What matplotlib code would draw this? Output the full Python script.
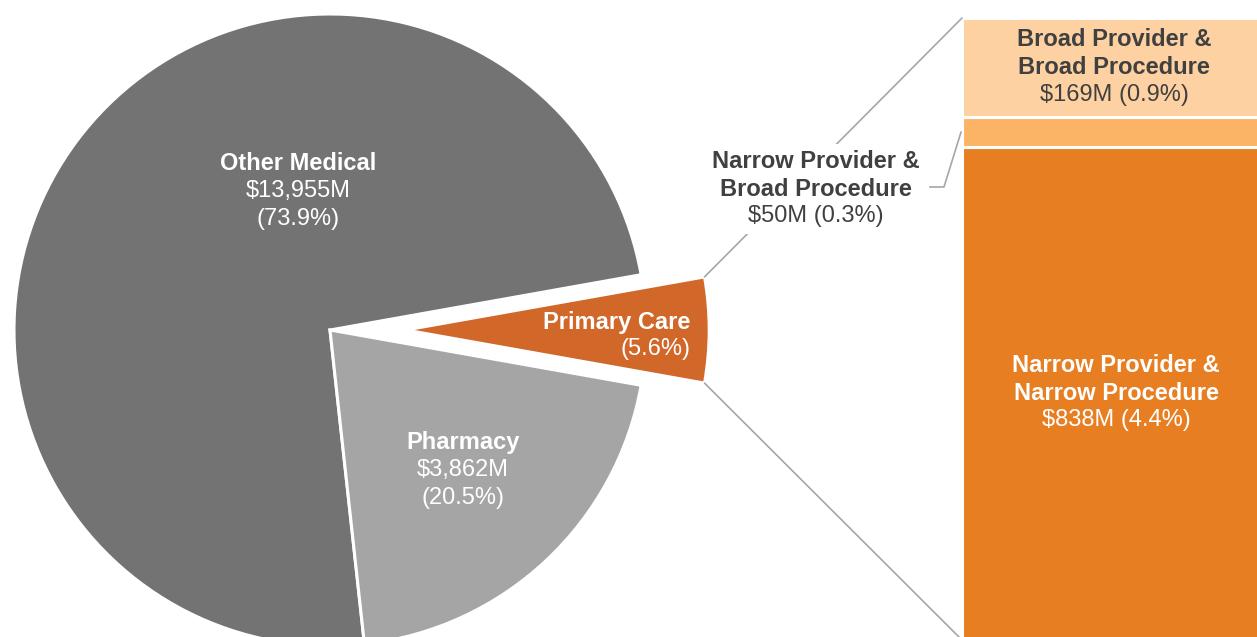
import matplotlib
matplotlib.use("Agg")
import numpy as np
import matplotlib.pyplot as plt
from matplotlib.patches import ConnectionPatch, Rectangle
from matplotlib.lines import Line2D

plt.rcParams['font.family'] = ['Liberation Sans', 'DejaVu Sans']

# data
pie_labels = ["Primary Care", "Other Medical", "Pharmacy"]
pie_values = [1057, 13955, 3862]
pie_pcts = ["5.6%", "73.9%", "20.5%"]
pie_colors = ["#D2672A", "#737373", "#A5A5A5"]

bar_labels = ["Narrow Provider &\nNarrow Procedure", "Narrow Provider &\nBroad Procedure",
              "Broad Provider &\nBroad Procedure"]
bar_values = [838, 50, 169]
bar_pcts = ["4.4%", "0.3%", "0.9%"]
bar_colors = ["#E87E22", "#FBB466", "#FDD1A1"]

W, H = 1257, 637
fig = plt.figure(figsize=(W / 100, H / 100), dpi=100)


def fx(px):
    return px / W


def fy(py):
    # py measured from the top
    return 1 - py / H


# ---- pie ----
R = 316            # pie radius in px
cx, cy = 330, 330  # pie centre in px (from top)
lim = 1.3
side = 2 * lim * R
ax_pie = fig.add_axes([fx(cx - side / 2), fy(cy + side / 2), side / W, side / H])
total = sum(pie_values)
start = -pie_values[0] / total * 360 / 2
ex = 0.24
r0 = 0.96
wedges, _ = ax_pie.pie(pie_values, colors=pie_colors, startangle=start, counterclock=True,
                       explode=[ex, 0, 0],
                       wedgeprops=dict(edgecolor="white", linewidth=2.2))
wedges[0].set_radius(r0)
ax_pie.set_xlim(-lim, lim)
ax_pie.set_ylim(-lim, lim)
ax_pie.set_aspect("equal")
ax_pie.axis("off")

# ---- bar ----
bar_top_px, bar_bot_px = 18, 640
bar_left_px, bar_right_px = 962, 1268
bar_total = sum(bar_values)
scale = (bar_bot_px - bar_top_px) / bar_total
ax_bar = fig.add_axes([fx(bar_left_px), 0, (bar_right_px - bar_left_px) / W, 1])
bottom = 0
for v, c in zip(bar_values, bar_colors):
    ax_bar.bar(0, v, width=1, bottom=bottom, align="edge", color=c,
               edgecolor="white", linewidth=2.2)
    bottom += v
ax_bar.set_xlim(0, 1)
ax_bar.set_ylim(-(H - bar_bot_px) / scale, bar_total + bar_top_px / scale)
ax_bar.axis("off")

# ---- connector lines ----
half = np.deg2rad(pie_values[0] / total * 360 / 2)
top_pt = (ex + r0 * np.cos(half), r0 * np.sin(half))
bot_pt = (ex + r0 * np.cos(half), -r0 * np.sin(half))
line_col = "#A6A6A6"
for p, q in [(top_pt, (0, bar_total)), (bot_pt, (0, 0))]:
    con = ConnectionPatch(xyA=p, coordsA=ax_pie.transData, xyB=q, coordsB=ax_bar.transData,
                          color=line_col, linewidth=1.2, zorder=1)
    fig.add_artist(con)

# white box behind the small-segment label
fig.add_artist(Rectangle((fx(700), fy(234)), (932 - 700) / W, (234 - 144) / H,
                         transform=fig.transFigure, facecolor="white", edgecolor="none", zorder=2))

# leader line for the thin segment
mid_val = bar_values[0] + bar_values[1] / 2
disp = ax_bar.transData.transform((0, mid_val))
fig_pt = fig.transFigure.inverted().transform(disp)
fig.add_artist(Line2D([fig_pt[0] - fx(1), fx(944), fx(930)], [fig_pt[1], fy(187), fy(187)],
                      transform=fig.transFigure, color=line_col, linewidth=1.2, zorder=3))

# ---- labels ----
FS = 17
dark = "#404040"


def label(x, y, lines, color, ha="center", step=28):
    for i, (txt, wt) in enumerate(lines):
        fig.text(fx(x), fy(y + i * step), txt, ha=ha, va="center", fontsize=FS,
                 fontweight=wt, color=color, zorder=5)


label(298, 163, [("Other Medical", "bold"), ("$13,955M", "normal"), (f"({pie_pcts[1]})", "normal")], "white")
label(463, 442, [("Pharmacy", "bold"), ("$3,862M", "normal"), (f"({pie_pcts[2]})", "normal")], "white")
label(690, 322, [("Primary Care", "bold"), (f"({pie_pcts[0]})", "normal")], "white", ha="right", step=27)

nb1, nb2 = bar_labels[1].split("\n")
label(816, 162, [(nb1, "bold"), (nb2, "bold"), (f"${bar_values[1]}M ({bar_pcts[1]})", "normal")], dark, step=27)
bb1, bb2 = bar_labels[2].split("\n")
label(1114, 39, [(bb1, "bold"), (bb2, "bold"), (f"${bar_values[2]}M ({bar_pcts[2]})", "normal")], dark, step=28)
nn1, nn2 = bar_labels[0].split("\n")
label(1116, 366, [(nn1, "bold"), (nn2, "bold"), (f"${bar_values[0]}M ({bar_pcts[0]})", "normal")], "white", step=27)

fig.savefig("out.png", dpi=100)
